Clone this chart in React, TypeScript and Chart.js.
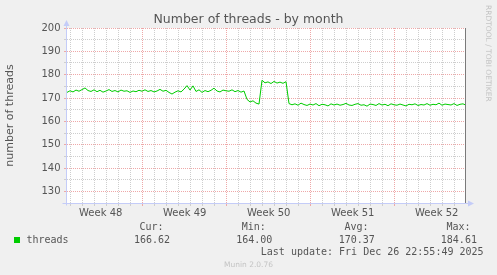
import React, { useEffect, useRef } from "react";
import { Chart, registerables } from "chart.js";

Chart.register(...registerables);

// ---- data (x in days after Monday 24 Nov 2025, start of week 48) ----
const START_DAY = 0.69;
const STEP_DAY = 0.25;
const END_DAY = 33.94;
const WEEK_LABELS = ["Week 48", "Week 49", "Week 50", "Week 51", "Week 52"];
const WEEK_LABEL_DAYS = [3.5, 10.5, 17.5, 24.5, 31.5];
const Y_MIN = 125;
const Y_MAX = 200;
const Y_LABELS = [130, 140, 150, 160, 170, 180, 190, 200];

const threads = [
  172.4, 173.1, 172.6, 173.4, 172.9, 173.6, 174.3, 173.2, 172.8, 173.5,
  172.7, 173.3, 172.5, 173.0, 173.6, 172.8, 173.2, 172.6, 173.4, 172.9,
  173.1, 172.4, 173.0, 172.7, 173.3, 172.9, 173.5, 172.8, 173.2, 172.6,
  173.0, 173.7, 172.9, 173.3, 172.4, 171.7, 172.5, 173.1, 172.6, 173.8,
  175.3, 173.4, 175.2, 172.8, 173.5, 172.4, 173.2, 172.7, 173.3, 174.2,
  173.0, 172.6, 173.4, 173.1, 172.9, 173.5, 172.7, 173.2, 172.5, 173.0,
  169.4, 168.3, 168.8, 167.8, 167.4,
  177.6, 176.5, 176.9, 176.2, 177.1, 176.4, 176.8, 176.3, 177.0,
  167.6, 167.1, 167.5, 166.9, 167.8, 167.2, 166.8, 167.4, 167.0, 167.6,
  166.7, 167.3, 167.1, 166.6, 167.5, 167.0, 167.4, 166.9, 167.2, 167.7,
  167.0, 166.8, 167.3, 167.6, 166.9, 167.1, 166.5, 167.4, 167.2, 166.8,
  167.6, 167.0, 167.3, 166.7, 167.5, 167.1, 166.9, 167.4, 167.0, 166.6,
  167.3, 167.1, 167.5, 166.8, 167.2, 167.0, 167.6, 166.9, 167.3, 167.1,
  167.8, 166.9, 167.4, 167.2, 167.0, 167.6, 166.8, 167.3, 167.5, 166.9,
];

const SERIES_NAME = "threads";
const STAT_LABELS = ["Cur:", "Min:", "Avg:", "Max:"];
const STAT_VALUES = ["166.62", "164.00", "170.37", "184.61"];
const TITLE = "Number of threads - by month";
const Y_TITLE = "number of threads";
const LAST_UPDATE = "Last update: Fri Dec 26 22:55:49 2025";
const FOOTER = "Munin 2.0.76";
const SIDE_TEXT = "RRDTOOL / TOBI OETIKER";

// ---- styles ----
const MAJOR = "rgb(238,168,168)";
const MINOR = "rgb(206,206,206)";
const TEXT = "#555";
const AXIS = "rgb(196,204,248)";
const LINE = "#00cc00";

const framePlugin = {
  id: "frame",
  beforeDraw(chart: any) {
    const { ctx, chartArea } = chart;
    const { left, top, right, bottom } = chartArea;
    ctx.save();
    ctx.fillStyle = "#f0f0f0";
    ctx.fillRect(0, 0, chart.width, chart.height);
    ctx.fillStyle = "#ffffff";
    ctx.fillRect(left, top, right - left, bottom - top);
    ctx.restore();
  },
  afterDraw(chart: any) {
    const { ctx, chartArea } = chart;
    const { left, top, right, bottom } = chartArea;
    ctx.save();
    // right frame line
    ctx.strokeStyle = "#7a7a7a";
    ctx.lineWidth = 1;
    ctx.beginPath();
    ctx.moveTo(Math.round(right) - 0.5, Math.round(top));
    ctx.lineTo(Math.round(right) - 0.5, Math.round(bottom) + 1);
    ctx.stroke();
    // axes
    ctx.strokeStyle = AXIS;
    ctx.fillStyle = AXIS;
    const lx = Math.round(left) - 0.5;
    const by = Math.round(bottom) + 0.5;
    ctx.beginPath();
    ctx.moveTo(lx, by + 2);
    ctx.lineTo(lx, top - 6);
    ctx.moveTo(lx - 4, by);
    ctx.lineTo(right + 5, by);
    ctx.stroke();
    // arrows
    ctx.beginPath();
    ctx.moveTo(lx, top - 8);
    ctx.lineTo(lx - 3, top - 2);
    ctx.lineTo(lx + 3, top - 2);
    ctx.closePath();
    ctx.fill();
    ctx.beginPath();
    ctx.moveTo(right + 8, by);
    ctx.lineTo(right + 2, by - 3);
    ctx.lineTo(right + 2, by + 3);
    ctx.closePath();
    ctx.fill();
    ctx.restore();
  },
};

export default function App() {
  const ref = useRef<HTMLCanvasElement | null>(null);

  useEffect(() => {
    if (!ref.current) return;
    const points = threads.map((v, i) => ({ x: START_DAY + i * STEP_DAY, y: v }));
    const chart = new Chart(ref.current, {
      type: "line",
      data: {
        datasets: [
          {
            label: SERIES_NAME,
            data: points,
            borderColor: LINE,
            borderWidth: 1,
            pointRadius: 0,
            tension: 0,
            fill: false,
          },
        ],
      },
      options: {
        animation: false,
        responsive: false,
        devicePixelRatio: 1,
        layout: { padding: { top: 28, right: 31, bottom: 0, left: 0 } },
        plugins: {
          legend: { display: false },
          tooltip: { enabled: false },
          title: { display: false },
        },
        scales: {
          x: {
            type: "linear",
            min: START_DAY,
            max: END_DAY,
            afterBuildTicks: (s: any) => {
              const t: any[] = [];
              for (let d = Math.ceil(START_DAY); d <= Math.floor(END_DAY); d++) t.push({ value: d });
              WEEK_LABEL_DAYS.forEach((d) => t.push({ value: d }));
              t.sort((a, b) => a.value - b.value);
              s.ticks = t;
            },
            afterFit: (s: any) => {
              s.height = 72;
            },
            grid: {
              color: (c: any) => {
                const v = c.tick ? c.tick.value : 0;
                if (!Number.isInteger(v)) return "rgba(0,0,0,0)";
                return v % 7 === 0 ? MAJOR : MINOR;
              },
              lineWidth: 1,
              tickLength: 3,
            },
            border: { display: false, dash: [1, 1] },
            ticks: {
              autoSkip: false,
              maxRotation: 0,
              minRotation: 0,
              padding: 1,
              color: TEXT,
              font: { family: "DejaVu Sans", size: 10 },
              callback: (v: any) => {
                const idx = WEEK_LABEL_DAYS.indexOf(Number(v));
                return idx >= 0 ? WEEK_LABELS[idx] : "";
              },
            },
          },
          y: {
            type: "linear",
            min: Y_MIN,
            max: Y_MAX,
            afterBuildTicks: (s: any) => {
              const t: any[] = [];
              for (let v = Y_MIN; v <= Y_MAX; v += 5) t.push({ value: v });
              s.ticks = t;
            },
            afterFit: (s: any) => {
              s.width = 67;
            },
            grid: {
              color: (c: any) => {
                const v = c.tick ? c.tick.value : 0;
                if (v === Y_MIN) return "rgba(0,0,0,0)";
                return v % 10 === 0 ? MAJOR : MINOR;
              },
              lineWidth: 1,
              tickLength: 3,
            },
            border: { display: false, dash: [1, 1] },
            title: {
              display: true,
              text: Y_TITLE,
              color: TEXT,
              font: { family: "DejaVu Sans", size: 11 },
              padding: { top: 4, bottom: 0 },
            },
            ticks: {
              autoSkip: false,
              padding: 3.5,
              color: TEXT,
              font: { family: "DejaVu Sans", size: 10 },
              callback: (v: any) => (Y_LABELS.includes(Number(v)) ? String(v) : ""),
            },
          },
        },
      },
      plugins: [framePlugin],
    });
    return () => chart.destroy();
  }, []);

  const mono: React.CSSProperties = {
    position: "absolute",
    fontFamily: "'DejaVu Sans Mono', monospace",
    fontSize: "10px",
    lineHeight: "12px",
    color: TEXT,
    whiteSpace: "pre",
  };
  const statX = [139.5, 241.8, 344.5, 446.5];
  const valX = [134, 236.2, 338.7, 440.8];

  return (
    <div
      style={{
        position: "absolute",
        left: 0,
        top: 0,
        width: 497,
        height: 275,
        background: "#f0f0f0",
        overflow: "hidden",
      }}
    >
      <canvas ref={ref} width={497} height={275} style={{ display: "block" }} />
      <div
        style={{
          position: "absolute",
          left: 0,
          top: 11,
          width: 497,
          textAlign: "center",
          fontFamily: "'DejaVu Sans', sans-serif",
          fontSize: "12.5px",
          lineHeight: "15px",
          color: TEXT,
          whiteSpace: "pre",
        }}
      >
        {TITLE}
      </div>
      <div
        style={{
          position: "absolute",
          left: 492.5,
          top: 5,
          transform: "rotate(90deg)",
          transformOrigin: "0 0",
          fontFamily: "'DejaVu Sans', sans-serif",
          fontSize: "7.5px",
          lineHeight: "9px",
          color: "#c4c4c4",
          whiteSpace: "pre",
        }}
      >
        {SIDE_TEXT}
      </div>
      <div
        style={{
          position: "absolute",
          left: 14,
          top: 237,
          width: 6,
          height: 6,
          background: LINE,
        }}
      />
      <div style={{ ...mono, left: 26.5, top: 233.7 }}>{SERIES_NAME}</div>
      {STAT_LABELS.map((s, i) => (
        <div key={"l" + i} style={{ ...mono, left: statX[i], top: 221.3 }}>
          {s}
        </div>
      ))}
      {STAT_VALUES.map((s, i) => (
        <div key={"v" + i} style={{ ...mono, left: valX[i], top: 233.7 }}>
          {s}
        </div>
      ))}
      <div style={{ ...mono, left: 260.8, top: 245.7 }}>{LAST_UPDATE}</div>
      <div
        style={{
          position: "absolute",
          left: 0,
          top: 259.6,
          width: 497,
          textAlign: "center",
          fontFamily: "'DejaVu Sans', sans-serif",
          fontSize: "7.5px",
          lineHeight: "9px",
          color: "#c4c4c4",
          whiteSpace: "pre",
        }}
      >
        {FOOTER}
      </div>
    </div>
  );
}
